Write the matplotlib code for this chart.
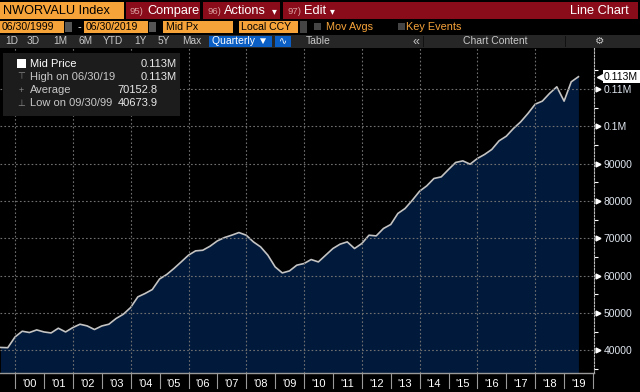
import matplotlib
matplotlib.use("Agg")
import matplotlib.pyplot as plt
import matplotlib.dates as mdates
from matplotlib.patches import Rectangle
import pandas as pd
import datetime as dt

plt.rcParams['font.family'] = ['Liberation Sans', 'DejaVu Sans']

# quarterly mid price, 06/30/1999 .. 06/30/2019
dates = pd.date_range('1999-06-30', '2019-06-30', freq='QE')
values = [40750, 40674, 43560, 45100, 44750, 45450, 44900, 44640, 45900, 44900,
          46080, 46970, 46520, 45550, 46500, 46970, 48500, 49650, 51450, 54300,
          55200, 56270, 59100, 60290, 61900, 63670, 65470, 66630, 66800, 67880,
          69300, 70200, 70830, 71540, 70830, 69040, 67700, 65470, 62330, 60720,
          61260, 62790, 63240, 64310, 63670, 65470, 67260, 68420, 69040, 67260,
          68600, 70830, 70640, 72630, 73700, 76650, 77990, 80210, 82630, 84050,
          86030, 86460, 88440, 90320, 90750, 89870, 91390, 92470, 93810, 96120,
          97370, 99430, 101200, 103450, 105950, 106760, 108820, 110600, 106760,
          111930, 113300]
years = list(range(2000, 2020))
ytick_vals = [40000, 50000, 60000, 70000, 80000, 90000, 100000, 110000]
ytick_labels = ['40000', '50000', '60000', '70000', '80000', '90000', '0.1M', '0.11M']
legend_rows = [('Mid Price', '0.113M'), ('High on 06/30/19', '0.113M'),
               ('Average', '70152.8'), ('Low on 09/30/99', '40673.9')]

W, H = 640, 392
ORANGE = '#f6a33a'
RED = '#8a0c1b'
BAR = '#262626'
BLUE = '#0b5ec4'
NAVY = '#011a3c'

fig = plt.figure(figsize=(6.4, 3.92), dpi=100, facecolor='black')


def rect(x, y, w, h, color):
    fig.patches.append(Rectangle((x / W, 1 - (y + h) / H), w / W, h / H,
                                 transform=fig.transFigure, facecolor=color,
                                 edgecolor='none'))


def txt(x, y, s, **kw):
    kw.setdefault('va', 'center')
    fig.text(x / W, 1 - y / H, s, **kw)


# ---- row 1: ticker + buttons
rect(0, 2, 124, 17, ORANGE)
txt(3, 11, 'NWORVALU Index', fontsize=9.2, color='black')
rect(126, 2, 74, 17, RED)
txt(130, 11, '95)', fontsize=6.8, color='#d9a0a0')
txt(147, 11, 'Compare', fontsize=9.2, color='white')
rect(203, 2, 77, 17, RED)
txt(207, 11, '96)', fontsize=6.8, color='#d9a0a0')
txt(224, 11, 'Actions', fontsize=9.2, color='white')
txt(272, 11, '\u25be', fontsize=7, color='white')
rect(283, 2, 355, 17, RED)
txt(287, 11, '97)', fontsize=6.8, color='#d9a0a0')
txt(304, 11, 'Edit', fontsize=9.2, color='white')
txt(330, 11, '\u25be', fontsize=7, color='white')
txt(629, 11, 'Line Chart', fontsize=9.2, color='white', ha='right')

# ---- row 2: dates and options
rect(0, 21, 64, 12, ORANGE)
txt(2, 27, '06/30/1999', fontsize=7.6, color='black')
rect(65, 22, 7, 10, '#555555')
txt(77, 27, '-', fontsize=8, color='white')
rect(84, 21, 64, 12, ORANGE)
txt(86, 27, '06/30/2019', fontsize=7.6, color='black')
rect(149, 22, 7, 10, '#555555')
rect(163, 21, 70, 12, ORANGE)
txt(166, 27, 'Mid Px', fontsize=7.6, color='black')
rect(239, 21, 59, 12, ORANGE)
txt(241, 27, 'Local CCY', fontsize=7.6, color='black')
rect(300, 21, 7, 12, '#444444')
rect(314, 23, 7, 7, '#444444')
txt(326, 27, 'Mov Avgs', fontsize=7.8, color=ORANGE)
rect(398, 23, 7, 7, '#444444')
txt(406, 27, 'Key Events', fontsize=7.8, color=ORANGE)

# ---- row 3: range buttons
rect(0, 35, 640, 13, BAR)
for lab, cx in [('1D', 12), ('3D', 33), ('1M', 60), ('6M', 86), ('YTD', 113),
                ('1Y', 140), ('5Y', 164), ('Max', 192)]:
    txt(cx, 41.5, lab, fontsize=7.3, color='#c8c8c8', ha='center')
rect(209, 36, 63, 11, BLUE)
txt(240, 41.5, 'Quarterly \u25bc', fontsize=7.5, color='white', ha='center')
rect(275, 36, 16, 11, BLUE)
txt(283, 41.5, '\u223f', fontsize=7, color='white', ha='center')
txt(306, 41.5, 'Table', fontsize=7.5, color='#c8c8c8')
txt(416, 41.5, '\u00ab', fontsize=9, color='#c8c8c8', ha='center')
rect(423, 36, 1, 11, '#111111')
rect(565, 36, 1, 11, '#111111')
txt(495, 41.5, 'Chart Content', fontsize=7.5, color='#c8c8c8', ha='center')
txt(600, 41.5, '\u2699', fontsize=7.5, color='#c8c8c8', ha='center')

# ---- main chart
ax = fig.add_axes([0, (H - 373) / H, 594 / W, (373 - 48) / H])
ax.set_facecolor('black')
ymin, ymax = 33900, 121000
ax.fill_between(dates, values, ymin, color=NAVY, lw=0, zorder=2)
ax.plot(dates, values, color='#c4c4c4', lw=1.2, zorder=3)
ax.set_ylim(ymin, ymax)
ax.set_xlim(dt.datetime(1999, 6, 24), dt.datetime(2020, 1, 13))

for y in ytick_vals:
    ax.axhline(y, color='#707070', lw=0.8, ls=(0, (1.5, 2)), zorder=4)
for yr in years[::2]:
    ax.axvline(dt.datetime(yr, 1, 1), color='#707070', lw=0.8, ls=(0, (1.5, 2)), zorder=4)

for s in ['top', 'left', 'bottom']:
    ax.spines[s].set_visible(False)
ax.spines['right'].set_color('#bbbbbb')
ax.spines['right'].set_linestyle((0, (1.5, 1.5)))
ax.spines['right'].set_linewidth(0.8)

ax.yaxis.tick_right()
ax.set_yticks(ytick_vals)
ax.set_yticklabels(ytick_labels)
ax.set_yticks([v + 5000 for v in ytick_vals] + [35000], minor=True)
ax.tick_params(axis='y', which='major', length=0, pad=7, labelsize=7.5,
               labelcolor='#dfe6ef')
ax.tick_params(axis='y', which='minor', length=3, color='white', width=0.8)
tr = ax.get_yaxis_transform()
ax.plot([1.006] * len(ytick_vals), ytick_vals, ls='none', marker='>', ms=3.5,
        color='white', transform=tr, clip_on=False)

# last value tag
ax.plot([1.01], [values[-1]], ls='none', marker='<', ms=4, color='white',
        transform=tr, clip_on=False)
ax.text(1.017, values[-1], '0.113M', transform=tr, fontsize=7.5, color='black',
        va='center', ha='left',
        bbox=dict(boxstyle='square,pad=0.15', fc='white', ec='none'))

# x axis year strip
ax.set_xticks([dt.datetime(yr, 7, 1) for yr in years])
ax.set_xticklabels(["'%02d" % (yr % 100) for yr in years])
ax.tick_params(axis='x', length=0, pad=4, labelsize=8, labelcolor='white')
xtr = ax.get_xaxis_transform()
ax.plot([0, 1], [0, 0], transform=ax.transAxes, color='#9a9a9a', lw=1,
        clip_on=False, zorder=5)
for yr in years + [2020]:
    d = dt.datetime(yr, 1, 1)
    ax.plot([d, d], [0, -0.045], transform=xtr, color='#9a9a9a', lw=0.8,
            clip_on=False)

# ---- stats box
rect(3, 53, 177, 63, '#1c1c1c')
rect(17, 59, 9, 9, 'white')
for i, (lab, val) in enumerate(legend_rows):
    yy = 64 + i * 13
    col = 'white' if i == 0 else '#c8c8c8'
    txt(30, yy, lab, fontsize=8, color=col)
    xr = 177 if i < 2 else 158
    txt(xr, yy, val, fontsize=8, color='#e8e8e8', ha='right')
txt(21, 77, '\u22a4', fontsize=6.5, color='#888888', ha='center')
txt(21, 90, '+', fontsize=6.5, color='#888888', ha='center')
txt(21, 103, '\u22a5', fontsize=6.5, color='#888888', ha='center')

fig.savefig('out.png', dpi=100, facecolor='black')
